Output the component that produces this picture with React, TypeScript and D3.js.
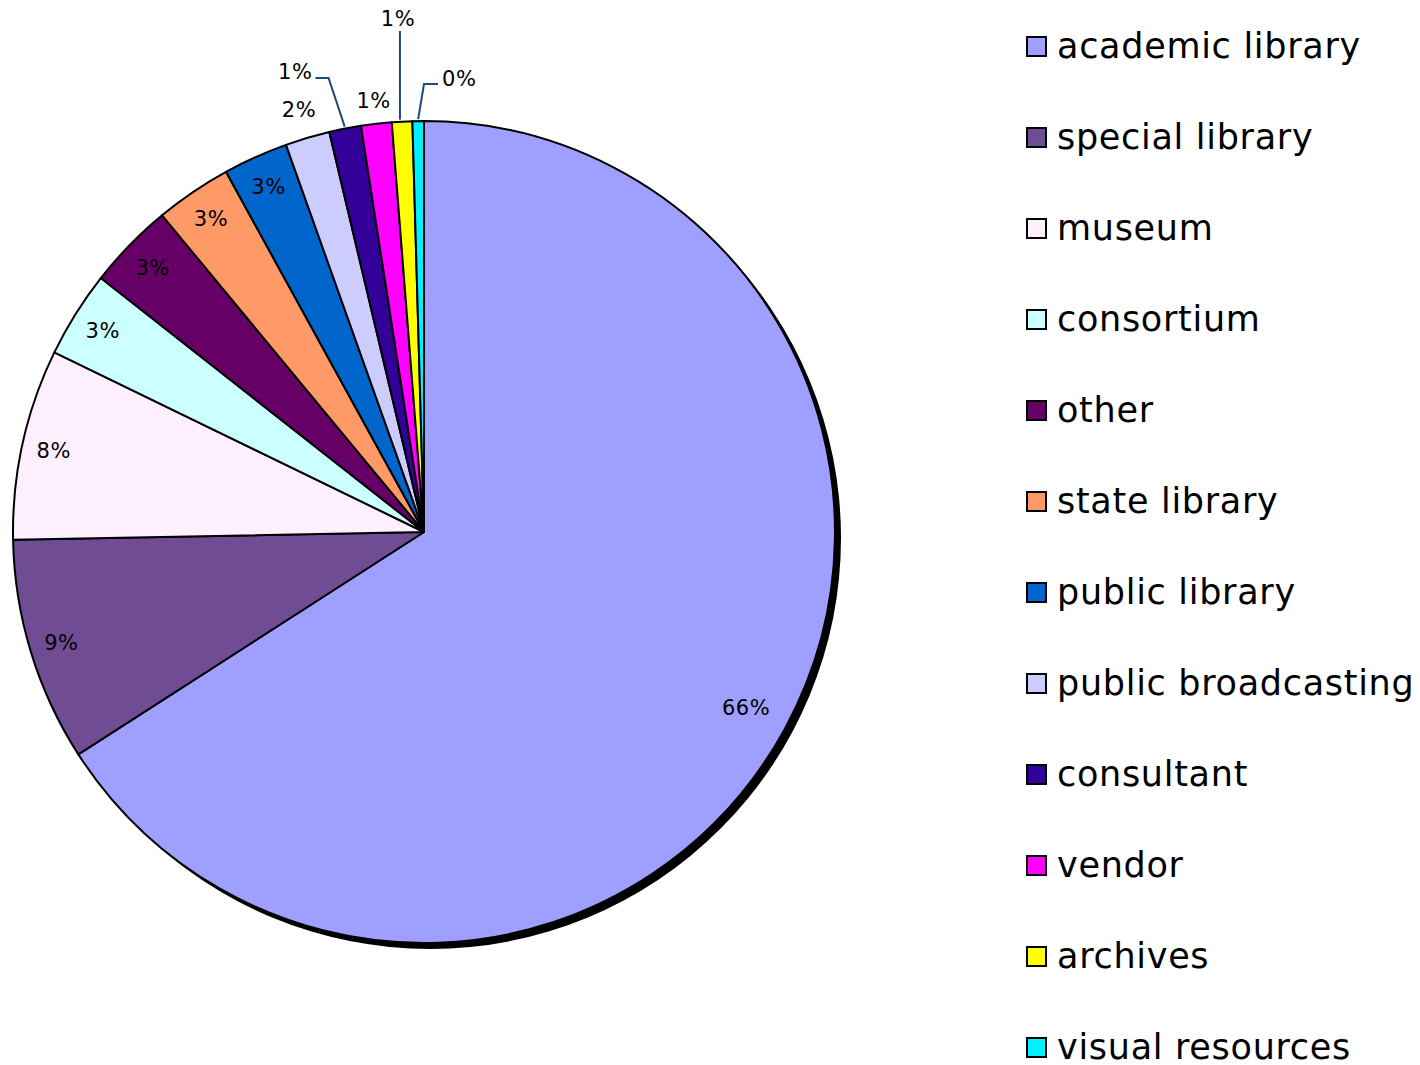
import * as d3 from "d3";
import * as React from "react";

// shares of respondents by institution type (percent)
const categories = [
  "academic library",
  "special library",
  "museum",
  "consortium",
  "other",
  "state library",
  "public library",
  "public broadcasting",
  "consultant",
  "vendor",
  "archives",
  "visual resources",
];
const shares = [65.9, 8.8, 7.5, 3.4, 3.4, 3.0, 2.55, 1.75, 1.25, 1.2, 0.8, 0.45];
const pctLabels = ["66%", "9%", "8%", "3%", "3%", "3%", "3%", "2%", "1%", "1%", "1%", "0%"];
const colors = [
  "#9F9FFF", "#704C94", "#FFF0FF", "#CCFFFF", "#660066", "#FF9966",
  "#0066CC", "#CCCCFF", "#330099", "#FF00FF", "#FFFF00", "#00F0FF",
];

const width = 1420;
const height = 1065;
const cx = 424;
const cy = 532;
const R = 411;
const font = "'DejaVu Sans', Verdana, sans-serif";
const leaderColor = "#1B4A78";

const polar = (a: number, r: number): [number, number] => [cx + r * Math.sin(a), cy - r * Math.cos(a)];

export default function App() {
  const pie = d3.pie<number>().sort(null).value((d) => d);
  const arcs = pie(shares);
  const arc = d3.arc<d3.PieArcDatum<number>>().innerRadius(0).outerRadius(R);
  const deg = Math.PI / 180;

  const labels = arcs.map((a, i) => {
    const mid = (a.startAngle + a.endAngle) / 2;
    const key = "lbl" + i;
    const txt = { fontFamily: font, fontSize: 21, letterSpacing: 0.6, fill: "#000" } as any;
    if (i <= 6) {
      // big label sits a little further in, like the original
      const [x, y] = polar(mid, i === 0 ? 367 : 379);
      return <text key={key} x={x} y={y} dy="0.36em" textAnchor="middle" style={txt}>{pctLabels[i]}</text>;
    }
    if (i === 7 || i === 9) {
      const [x, y] = polar(mid, R + (i === 7 ? 30 : 23));
      return <text key={key} x={x} y={y} dy="0.36em" textAnchor="middle" style={txt}>{pctLabels[i]}</text>;
    }
    const p0 = polar(mid, R + 2);
    if (i === 8) {
      const p1 = polar(mid - 0.8 * deg, R + 53);
      const p2: [number, number] = [p1[0] - 13, p1[1]];
      return <g key={key}>
        <polyline points={[p0, p1, p2].map((p) => p.join(",")).join(" ")} fill="none" stroke={leaderColor} strokeWidth={2} />
        <text x={p2[0] - 3} y={p2[1] - 6} dy="0.36em" textAnchor="end" style={txt}>{pctLabels[i]}</text>
      </g>;
    }
    if (i === 10) {
      const p1: [number, number] = [p0[0] - 2, cy - R - 90];
      return <g key={key}>
        <line x1={p0[0] - 2} y1={p0[1]} x2={p1[0]} y2={p1[1]} stroke={leaderColor} strokeWidth={2} />
        <text x={p1[0] - 2} y={p1[1] - 13} dy="0.36em" textAnchor="middle" style={txt}>{pctLabels[i]}</text>
      </g>;
    }
    const p1 = polar(0, R + 37);
    const p2: [number, number] = [p1[0] + 14, p1[1]];
    return <g key={key}>
      <polyline points={[p0, p1, p2].map((p) => p.join(",")).join(" ")} fill="none" stroke={leaderColor} strokeWidth={2} />
      <text x={p2[0] + 4} y={p2[1] - 6} dy="0.36em" textAnchor="start" style={txt}>{pctLabels[i]}</text>
    </g>;
  });

  const legendY = d3.scalePoint<string>().domain(categories).range([47, 1048]);

  return (
    <svg width={width} height={height} style={{ position: "absolute", left: 0, top: 0, background: "#fff" }}>
      <circle cx={cx + 6} cy={cy + 6} r={R} fill="#000" />
      <g transform={`translate(${cx},${cy})`}>
        {arcs.map((a, i) => (
          <path key={"slice" + i} d={arc(a) as string} fill={colors[i]} stroke="#000" strokeWidth={2} strokeLinejoin="round" />
        ))}
      </g>
      {labels}
      <g>
        {categories.map((c, i) => {
          const y = legendY(c) as number;
          return <g key={"leg" + i}>
            <rect x={1027} y={y - 10} width={19} height={19} fill={colors[i]} stroke="#000" strokeWidth={2} />
            <text x={1057} y={y + 11} style={{ fontFamily: font, fontSize: 35, letterSpacing: 0.7 }} fill="#000">{c}</text>
          </g>;
        })}
      </g>
    </svg>
  );
}
